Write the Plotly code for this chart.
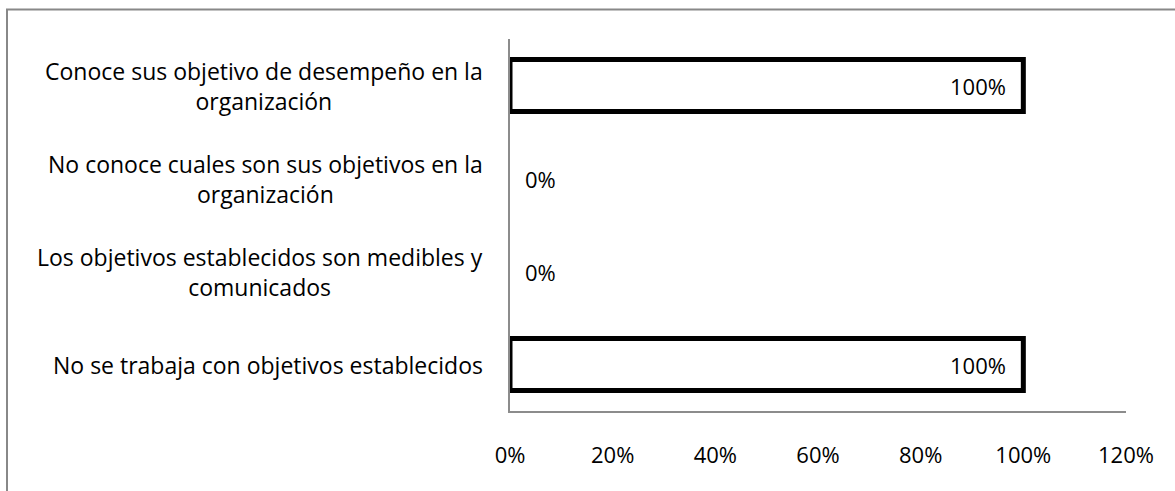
import plotly.graph_objects as go

categories = [
    "Conoce sus objetivo de desempeño en la<br>organización",
    "No conoce cuales son sus objetivos en la<br>organización",
    "Los objetivos establecidos son medibles y<br>comunicados",
    "No se trabaja con objetivos establecidos",
]
values = [1.0, 0.0, 0.0, 1.0]
tick_vals = [0, 0.2, 0.4, 0.6, 0.8, 1.0, 1.2]
tick_text = ["0%", "20%", "40%", "60%", "80%", "100%", "120%"]

FONT = "Open Sans"
FS = 23
W, H = 1175, 491
ML, MR, MT, MB = 510, 49, 39, 80

fig = go.Figure(
    go.Bar(
        y=categories,
        x=values,
        orientation="h",
        marker=dict(color="white",
                    line=dict(color="black", width=[5 if v > 0 else 0 for v in values])),
        hoverinfo="skip",
    )
)

annotations = []
# value labels
for cat, v in zip(categories, values):
    if v > 0:
        annotations.append(dict(x=v, y=cat, xref="x", yref="y", text=f"{v:.0%}",
                                showarrow=False, xanchor="right", xshift=-15,
                                font=dict(family=FONT, size=FS - 1, color="black")))
    else:
        annotations.append(dict(x=v, y=cat, xref="x", yref="y", text=f"{v:.0%}",
                                showarrow=False, xanchor="left", xshift=13,
                                font=dict(family=FONT, size=FS - 1, color="black")))
# category labels, centred lines, right edge near the axis
for cat in categories:
    annotations.append(dict(x=-0.04, y=cat, xref="paper", yref="y", text=cat,
                            showarrow=False, xanchor="right", yanchor="middle",
                            align="center",
                            font=dict(family=FONT, size=FS, color="black")))

pw = W - ML - MR
ph = H - MT - MB
# outer chart frame
shapes = [
    dict(type="rect", xref="paper", yref="paper",
         x0=(7 - ML) / pw, x1=(W + 10 - ML) / pw,
         y0=-(MB + 10) / ph, y1=(H - MB - 9.5) / ph,
         line=dict(color="#888888", width=2), fillcolor="rgba(0,0,0,0)", layer="below"),
]

fig.update_layout(
    width=W, height=H,
    margin=dict(l=ML, r=MR, t=MT, b=MB),
    paper_bgcolor="white", plot_bgcolor="white",
    showlegend=False,
    bargap=0.44,
    annotations=annotations,
    shapes=shapes,
    xaxis=dict(range=[0, 1.2], tickvals=tick_vals, ticktext=tick_text,
               showgrid=False, zeroline=False, showline=True,
               linecolor="#8c8c8c", linewidth=1.5, ticks="",
               ticklabelstandoff=24,
               tickfont=dict(family=FONT, size=FS - 1, color="black")),
    yaxis=dict(autorange="reversed", showticklabels=False, showgrid=False,
               zeroline=False, showline=True, linecolor="#8c8c8c", linewidth=1.5,
               ticks=""),
)

fig.write_html("out.html")
